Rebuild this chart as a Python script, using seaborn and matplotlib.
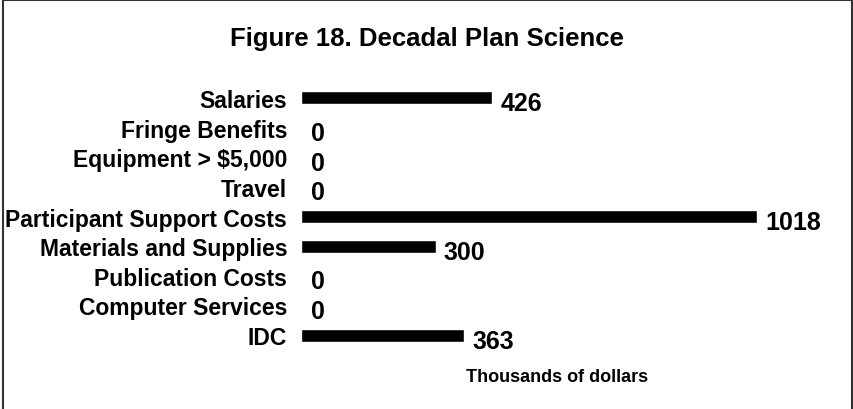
import matplotlib.pyplot as plt
import seaborn as sns
import pandas as pd
from matplotlib.lines import Line2D

sns.set_theme(style="white")
plt.rcParams['font.family'] = ['Liberation Sans', 'DejaVu Sans']

# data
categories = ['Salaries', 'Fringe Benefits', 'Equipment > $5,000', 'Travel',
              'Participant Support Costs', 'Materials and Supplies',
              'Publication Costs', 'Computer Services', 'IDC']
values = [426, 0, 0, 0, 1018, 300, 0, 0, 363]

df = pd.DataFrame({'category': categories, 'value': values})

fig = plt.figure(figsize=(8.54, 4.10), dpi=100)
ax = fig.add_axes([0.3525, 0.144, 0.60, 0.651])

sns.barplot(data=df, x='value', y='category', color='black', width=0.44,
            saturation=1, ax=ax)

ax.set_xlim(0, 1143)
ax.set_ylim(8.5, -0.5)
for s in ax.spines.values():
    s.set_visible(False)
ax.set_xticks([])
ax.tick_params(axis='y', length=0, pad=10)
for lbl in ax.get_yticklabels():
    lbl.set_fontweight('bold')
    lbl.set_fontsize(16.5)
    lbl.set_color('black')
ax.set_ylabel('')
ax.set_xlabel('Thousands of dollars', fontsize=13, fontweight='bold',
              color='black', labelpad=13)

for i, v in enumerate(values):
    ax.annotate(str(v), xy=(v, i), xytext=(6 if v > 0 else 7, -4),
                textcoords='offset points', ha='left', va='center',
                fontsize=18, fontweight='bold', color='black')

fig.suptitle('Figure 18. Decadal Plan Science', fontsize=18.5,
             fontweight='bold', y=0.935, color='black')

# border around the figure (bottom edge cut off)
bc = '#333333'
fig.add_artist(Line2D([0.004, 0.004], [0.0, 0.997], color=bc, lw=1.5,
                      transform=fig.transFigure))
fig.add_artist(Line2D([0.004, 0.998], [0.997, 0.997], color=bc, lw=1.5,
                      transform=fig.transFigure))
fig.add_artist(Line2D([0.998, 0.998], [0.0, 0.997], color=bc, lw=1.5,
                      transform=fig.transFigure))

fig.savefig('out.png', dpi=100)
plt.close(fig)
